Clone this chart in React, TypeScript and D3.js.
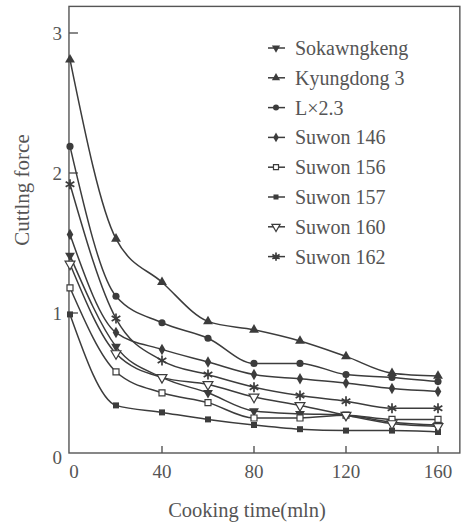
import React from "react";
import * as d3 from "d3";

const times = [0, 20, 40, 60, 80, 100, 120, 140, 160];
const seriesNames = ["Sokawngkeng", "Kyungdong 3", "L\u00d72.3", "Suwon 146", "Suwon 156", "Suwon 157", "Suwon 160", "Suwon 162"];
const sokawngkeng = [1.41, 0.76, 0.54, 0.43, 0.30, 0.28, 0.27, 0.22, 0.20];
const kyungdong3 = [2.81, 1.53, 1.22, 0.94, 0.88, 0.80, 0.69, 0.57, 0.55];
const lx23 = [2.19, 1.12, 0.93, 0.82, 0.64, 0.64, 0.56, 0.54, 0.51];
const suwon146 = [1.56, 0.86, 0.74, 0.65, 0.56, 0.53, 0.50, 0.46, 0.44];
const suwon156 = [1.18, 0.58, 0.43, 0.36, 0.25, 0.25, 0.27, 0.24, 0.24];
const suwon157 = [0.99, 0.34, 0.29, 0.24, 0.20, 0.17, 0.16, 0.16, 0.15];
const suwon160 = [1.35, 0.71, 0.54, 0.49, 0.40, 0.34, 0.27, 0.21, 0.19];
const suwon162 = [1.92, 0.96, 0.66, 0.56, 0.47, 0.41, 0.37, 0.32, 0.32];
const xTicks = [0, 40, 80, 120, 160];
const yTicks = [0, 1, 2, 3];

const allSeries = [sokawngkeng, kyungdong3, lx23, suwon146, suwon156, suwon157, suwon160, suwon162];
const markerKinds = ["triDownFilled", "triUpFilled", "circleFilled", "diamondFilled", "squareOpen", "squareFilled", "triDownOpen", "asterisk"];

const INK = "#3c3c3c";
const TXT = "#555";
const FONT = "'Liberation Serif', 'DejaVu Serif', serif";

function Marker({ kind, cx, cy, s = 1 }: { kind: string; cx: number; cy: number; s?: number }) {
  const tri = d3.symbol().type(d3.symbolTriangle).size(42 * s)() as string;
  const circ = d3.symbol().type(d3.symbolCircle).size(40 * s)() as string;
  const dia = d3.symbol().type(d3.symbolDiamond).size(38 * s)() as string;
  const sq = d3.symbol().type(d3.symbolSquare).size(36 * s)() as string;
  const ast = d3.symbol().type(d3.symbolAsterisk).size(70 * s)() as string;
  const t = `translate(${cx},${cy})`;
  switch (kind) {
    case "triDownFilled":
      return <path d={tri} transform={`${t} rotate(180)`} fill={INK} />;
    case "triUpFilled":
      return <path d={tri} transform={t} fill={INK} />;
    case "circleFilled":
      return <path d={circ} transform={t} fill={INK} />;
    case "diamondFilled":
      return <path d={dia} transform={t} fill={INK} />;
    case "squareOpen":
      return <path d={sq} transform={t} fill="#fff" stroke={INK} strokeWidth={1.2} />;
    case "squareFilled":
      return <path d={sq} transform={t} fill={INK} />;
    case "triDownOpen":
      return <path d={tri} transform={`${t} rotate(180)`} fill="#fff" stroke={INK} strokeWidth={1.2} />;
    case "asterisk":
      return <path d={ast} transform={t} fill="none" stroke={INK} strokeWidth={1.7} />;
    default:
      return null;
  }
}

export default function App() {
  const W = 465, H = 524;
  const x = d3.scaleLinear().domain([0, 160]).range([70, 438]);
  const y = d3.scaleLinear().domain([0, 3]).range([453, 33]);
  const frameL = x(-0.45), frameR = x(169.5), frameT = y(3.19), frameB = y(0);

  const line = d3
    .line<number>()
    .x((_, i) => x(times[i]))
    .y((d) => y(d))
    .curve(d3.curveMonotoneX);

  const legendX = 276, legendY0 = 48, legendStep = 29.8;
  const ts = { fontFamily: FONT };

  return (
    <svg width={W} height={H} style={{ position: "absolute", left: 0, top: 0, background: "#fff" }}>
      <rect x={0} y={0} width={W} height={H} fill="#fff" />
      <rect x={frameL} y={frameT} width={frameR - frameL} height={frameB - frameT} fill="none" stroke="#555" strokeWidth={1.4} />
      {yTicks.map((v) => (
        <g key={"y" + v}>
          {v > 0 && <line x1={frameL} x2={frameL + 9} y1={y(v)} y2={y(v)} stroke="#555" strokeWidth={1.4} />}
          <text x={frameL - 7} y={y(v) + (v === 0 ? 4 : 0)} textAnchor="end" dominantBaseline="central" fontSize={19} fill={TXT} style={ts}>
            {v}
          </text>
        </g>
      ))}
      {xTicks.map((v) => (
        <g key={"x" + v}>
          {v > 0 && <line x1={x(v)} x2={x(v)} y1={frameB} y2={frameB - 7} stroke="#555" strokeWidth={1.4} />}
          <text x={x(v) + (v === 0 ? 4 : 0)} y={frameB + 18} textAnchor="middle" dominantBaseline="central" fontSize={19} fill={TXT} style={ts}>
            {v}
          </text>
        </g>
      ))}
      <text transform={`translate(22,190) rotate(-90)`} textAnchor="middle" dominantBaseline="central" fontSize={21} fill={TXT} style={ts}>
        Cuttlng force
      </text>
      <text x={247} y={510} textAnchor="middle" dominantBaseline="central" fontSize={20.5} fill={TXT} style={ts}>
        Cooking time(mln)
      </text>
      {allSeries.map((s, si) => (
        <g key={"s" + si}>
          <path d={line(s) as string} fill="none" stroke={INK} strokeWidth={1.5} />
          {s.map((v, i) => (
            <Marker key={i} kind={markerKinds[si]} cx={x(times[i])} cy={y(v)} />
          ))}
        </g>
      ))}
      {seriesNames.map((name, i) => {
        const cy = legendY0 + i * legendStep;
        return (
          <g key={"l" + i}>
            <line x1={legendX - 8} x2={legendX + 9} y1={cy} y2={cy} stroke={INK} strokeWidth={1.5} />
            <Marker kind={markerKinds[i]} cx={legendX} cy={cy} s={0.7} />
            <text x={295} y={cy} dominantBaseline="central" fontSize={20} fill={TXT} style={ts}>
              {name}
            </text>
          </g>
        );
      })}
    </svg>
  );
}
